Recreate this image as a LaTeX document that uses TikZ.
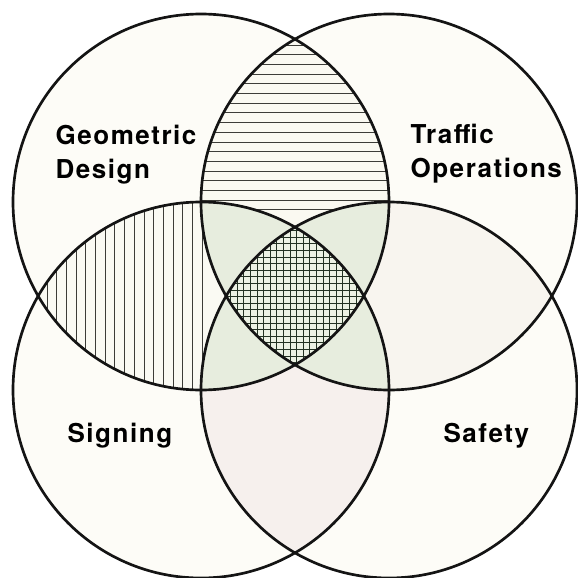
\documentclass[tikz,border=0pt]{standalone}
\usepackage{fontspec}
\newfontfamily\labelfont{TeX Gyre Heros}[LetterSpace=6]

\tikzset{every picture/.style={line width=0.75pt}}
\tikzset{
  ring/.style={line width=2pt, draw={rgb, 255:red, 20; green, 20; blue, 20}},
  hatchline/.style={line width=0.7pt, draw={rgb, 255:red, 60; green, 60; blue, 55}},
  gridline/.style={line width=0.65pt, draw={rgb, 255:red, 35; green, 50; blue, 35}},
  area/.style={font=\labelfont\bfseries\fontsize{19.5}{25.5}\selectfont, anchor=base west, inner sep=0pt, align=left}
}

\begin{document}
\begin{tikzpicture}[x=0.75pt,y=0.75pt,yscale=-1,xscale=1]
\useasboundingbox (0,0) rectangle (578,578);

\coordinate (tl) at (201,202);
\coordinate (tr) at (389,202);
\coordinate (bl) at (201,390);
\coordinate (br) at (389,390);

%Shape: Circle fills
\foreach \c in {tl,tr,bl,br}
  \fill [fill={rgb, 255:red, 253; green, 252; blue, 247}] (\c) circle (188);

%Lens: Traffic Operations and Safety
\begin{scope}
  \clip (tr) circle (188);
  \fill [fill={rgb, 255:red, 248; green, 245; blue, 239}] (br) circle (188);
\end{scope}
%Lens: Signing and Safety
\begin{scope}
  \clip (bl) circle (188);
  \fill [fill={rgb, 255:red, 246; green, 240; blue, 237}] (br) circle (188);
\end{scope}
%Lens: Geometric Design and Traffic Operations, horizontal hatch
\begin{scope}
  \clip (tl) circle (188);
  \clip (tr) circle (188);
  \fill [fill={rgb, 255:red, 250; green, 249; blue, 241}] (tl) circle (188);
  \foreach \k in {0,...,17}
    \draw [hatchline] (195,{45+9.7*\k}) -- (395,{45+9.7*\k});
\end{scope}
%Lens: Geometric Design and Signing, vertical hatch
\begin{scope}
  \clip (tl) circle (188);
  \clip (bl) circle (188);
  \fill [fill={rgb, 255:red, 250; green, 250; blue, 243}] (tl) circle (188);
  \foreach \k in {0,...,16}
    \draw [hatchline] ({47+9.7*\k},195) -- ({47+9.7*\k},395);
\end{scope}

%Triple overlaps
\foreach \a/\b/\c in {tl/tr/bl,tl/tr/br,tl/bl/br,tr/bl/br}{
  \begin{scope}
    \clip (\a) circle (188);
    \clip (\b) circle (188);
    \fill [fill={rgb, 255:red, 231; green, 237; blue, 222}] (\c) circle (188);
  \end{scope}
}

%All four, cross hatch
\begin{scope}
  \clip (tl) circle (188);
  \clip (tr) circle (188);
  \clip (bl) circle (188);
  \clip (br) circle (188);
  \fill [fill={rgb, 255:red, 236; green, 242; blue, 228}] (220,220) rectangle (372,372);
  \foreach \k in {-11,...,11}{
    \draw [gridline] ({296.7+6.6*\k},220) -- ({296.7+6.6*\k},372);
    \draw [gridline] (220,{296.7+6.6*\k}) -- (372,{296.7+6.6*\k});
  }
\end{scope}

%Shape: Circle outlines
\foreach \c in {tl,tr,bl,br}
  \draw [ring] (\c) circle (188);

% Text Node
\node [area] (geometric) at (55,178) {Geometric\\Design};
% Text Node
\node [area] (traffic) at (410,177) {Traffic\\Operations};
% Text Node
\node [area] (signing) at (67,442) {Signing};
% Text Node
\node [area] (safety) at (443,442) {Safety};

\end{tikzpicture}
\end{document}
